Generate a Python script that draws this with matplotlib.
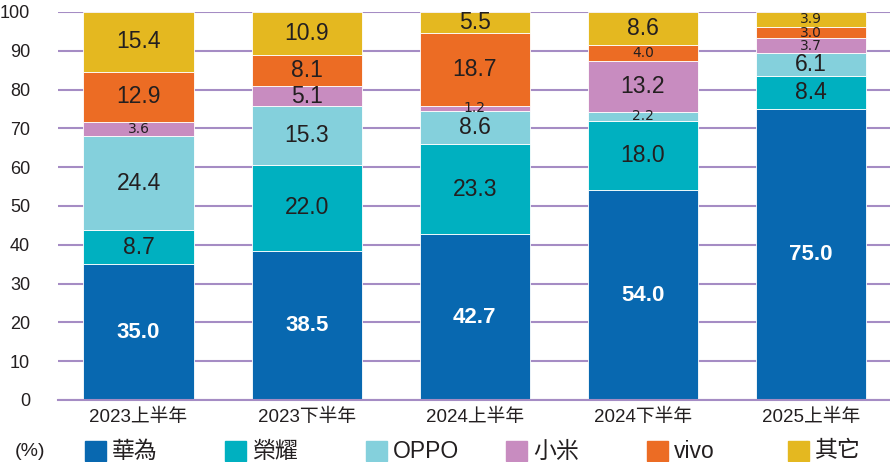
import matplotlib.pyplot as plt
from matplotlib.patches import Rectangle
import numpy as np

plt.rcParams['font.family'] = ['Liberation Sans', 'Noto Sans CJK TC']

# periods and market share (%)
periods = ['2023上半年', '2023下半年', '2024上半年', '2024下半年', '2025上半年']
brands = ['華為', '榮耀', 'OPPO', '小米', 'vivo', '其它']
huawei = [35.0, 38.5, 42.7, 54.0, 75.0]
honor = [8.7, 22.0, 23.3, 18.0, 8.4]
oppo = [24.4, 15.3, 8.6, 2.2, 6.1]
xiaomi = [3.6, 5.1, 1.2, 13.2, 3.7]
vivo = [12.9, 8.1, 18.7, 4.0, 3.0]
others = [15.4, 10.9, 5.5, 8.6, 3.9]

series = [huawei, honor, oppo, xiaomi, vivo, others]
colors = ['#0868b0', '#00b0c0', '#84d0dc', '#c88cc0', '#ec6c24', '#e4b820']
txt = '#231f20'

W, H = 890, 462
fig = plt.figure(figsize=(W / 100, H / 100), dpi=100)
ax = fig.add_axes([0.065, 1 - 400 / H, 0.935, 388 / H])

x = np.arange(len(periods))
bottom = np.zeros(len(periods))
for i, (vals, c) in enumerate(zip(series, colors)):
    vals = np.array(vals)
    ax.bar(x, vals, 0.655, bottom=bottom, color=c, edgecolor='white',
           linewidth=0.6, zorder=2)
    for xi, v, b in zip(x, vals, bottom):
        yc = b + v / 2
        if i == 0:
            ax.text(xi, yc, f'{v:.1f}', ha='center', va='center', color='white',
                    fontsize=16, fontweight='bold', zorder=3)
        elif v < 5:
            # small segments: compact, wide lettering
            ax.text(xi, yc, f'{v:.1f}', ha='center', va='center', color=txt,
                    fontsize=10, fontfamily='DejaVu Sans', zorder=3)
        else:
            ax.text(xi, yc, f'{v:.1f}', ha='center', va='center', color=txt,
                    fontsize=16.5, zorder=3)
    bottom += vals

ax.set_xlim(-0.48, 4.47)
ax.set_ylim(0, 100)
ax.set_yticks(range(0, 101, 10))
ax.yaxis.grid(True, color='#a58cc4', linewidth=1.5, zorder=0)
ax.set_axisbelow(True)
for s in ['top', 'right', 'left']:
    ax.spines[s].set_visible(False)
ax.spines['bottom'].set_color('#a58cc4')
ax.spines['bottom'].set_linewidth(1.5)
ax.tick_params(axis='both', length=0, labelsize=13, colors=txt)
ax.tick_params(axis='y', pad=20)
ax.set_xticks(x)
ax.set_xticklabels(periods, fontsize=13.5)
ax.tick_params(axis='x', pad=6)

# legend row, fixed spacing like the original
fig.text(15 / W, 1 - 451 / H, '(%)', fontsize=14, color=txt, va='center')
for k, (name, c) in enumerate(zip(brands, colors)):
    x0 = 85 + k * 140.5
    fig.patches.append(Rectangle((x0 / W, 1 - 461 / H), 21 / W, 20 / H,
                                 transform=fig.transFigure, color=c))
    fig.text((x0 + 27) / W, 1 - 451 / H, name, fontsize=16.5, color=txt,
             va='center')

fig.savefig('out.png', dpi=100)
